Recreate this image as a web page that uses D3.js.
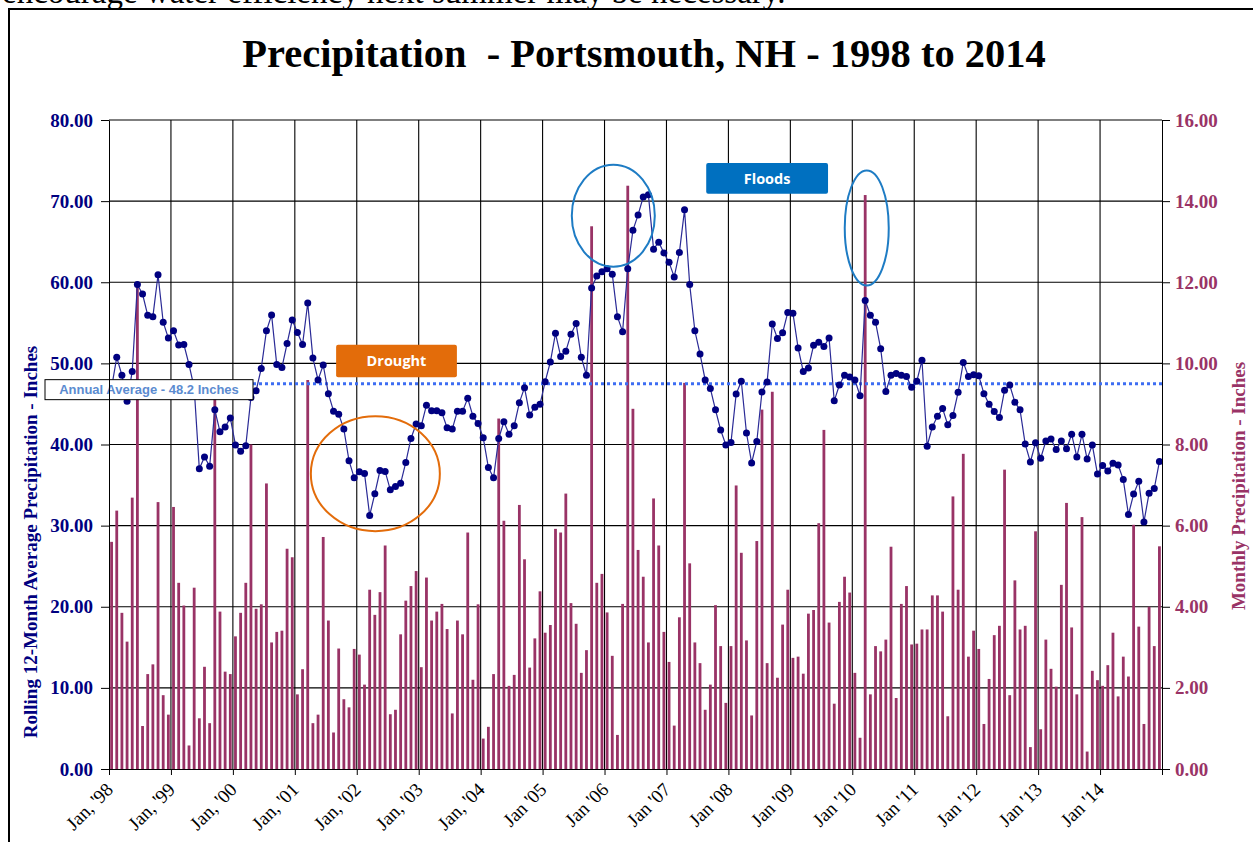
<!DOCTYPE html>
<html><head><meta charset="utf-8">
<script src="https://cdn.jsdelivr.net/npm/d3@7"></script>
<style>body{margin:0;background:#fff;overflow:hidden;} svg{display:block;}</style>
</head><body>
<svg id="chart" width="1253" height="842"></svg>
<script>
// ---------------- DATA ----------------
const yearLabels = ["Jan, '98","Jan, '99","Jan, '00","Jan, '01","Jan, '02","Jan, '03","Jan, '04",
  "Jan '05","Jan '06","Jan '07","Jan '08","Jan '09","Jan '10","Jan '11","Jan '12","Jan '13","Jan '14"];
const leftTicks = [0,10,20,30,40,50,60,70,80];
const rightTicks = [0,2,4,6,8,10,12,14,16];

// Monthly precipitation (inches), Jan 1998 .. Dec 2014
const monthlyPrecip = [
  5.60,6.37,3.85,3.14,6.69,11.90,1.06,2.34,2.58,6.58,1.82,1.34,
  6.46,4.59,4.03,0.58,4.47,1.25,2.52,1.13,9.25,3.88,2.40,2.34,
  3.27,3.85,4.59,8.00,3.95,4.06,7.04,3.12,3.38,3.41,5.43,5.22,
  1.84,2.46,9.59,1.13,1.34,5.72,3.66,0.90,2.97,1.72,1.52,2.96,
  2.82,2.08,4.42,3.80,4.36,5.51,1.35,1.46,3.32,4.15,4.51,4.88,
  2.51,4.72,3.66,3.88,4.07,3.45,1.37,3.66,3.32,5.83,2.20,4.06,
  0.75,1.04,2.34,8.64,6.12,2.05,2.32,6.51,5.17,2.50,3.22,4.38,
  3.36,3.55,5.92,5.83,6.79,4.09,3.58,2.37,2.93,13.38,4.59,4.81,
  3.86,2.79,0.84,4.07,14.38,8.88,5.40,4.74,3.12,6.67,5.51,3.38,
  2.64,1.07,3.74,9.52,5.07,3.12,2.61,1.46,2.08,4.04,3.03,1.63,
  3.03,6.99,5.33,3.17,1.32,5.62,8.86,2.61,9.30,2.25,3.56,4.42,
  2.74,2.77,2.35,3.83,3.92,6.06,8.36,3.61,1.61,4.12,4.74,4.35,
  2.37,0.77,14.15,1.84,3.03,2.90,3.19,5.48,1.75,4.07,4.51,3.07,
  3.09,3.44,3.44,4.28,4.28,3.88,1.30,6.72,4.42,7.77,2.77,3.41,
  2.96,1.11,2.22,3.30,3.53,7.38,1.82,4.65,3.44,3.53,0.54,5.86,
  0.98,3.19,2.47,2.03,4.54,6.56,3.49,1.84,6.21,0.43,2.42,2.19,
  2.05,2.56,3.36,1.79,2.77,2.28,6.02,3.51,1.11,4.00,3.03,5.49
];

// Rolling 12-month average precipitation (inches)
const rolling12 = [
  47.0,50.75,48.54,45.32,49.01,59.71,58.55,55.92,55.76,60.92,55.07,53.12,
  54.02,52.28,52.33,49.86,47.0,37.0,38.47,37.31,44.27,41.58,42.16,43.27,
  39.95,39.16,39.84,45.8,46.64,49.38,54.02,55.97,49.86,49.49,52.44,55.34,
  53.81,52.33,57.44,50.65,47.96,49.8,46.27,44.11,43.74,41.9,38.0,35.89,
  36.63,36.42,31.25,33.94,36.79,36.68,34.41,34.83,35.21,37.79,40.74,42.53,
  42.32,44.85,44.16,44.16,43.9,42.06,41.9,44.11,44.11,45.69,43.48,42.58,
  40.84,37.15,35.89,40.74,42.79,41.26,42.32,45.16,47.01,43.64,44.59,44.95,
  47.75,50.17,53.7,50.86,51.49,53.6,54.91,50.75,48.54,59.29,60.76,61.29,
  61.66,60.98,55.76,53.91,61.66,66.4,68.3,70.51,70.78,64.08,64.93,63.61,
  62.45,60.66,63.66,68.93,59.71,54.02,51.17,47.96,46.9,44.27,41.79,39.95,
  40.26,46.22,47.8,41.42,37.73,40.37,46.48,47.7,54.86,53.07,53.76,56.28,
  56.18,51.91,49.01,49.43,52.23,52.6,52.07,53.12,45.38,47.33,48.54,48.33,
  47.96,46.01,57.76,55.92,55.07,51.81,46.53,48.54,48.75,48.54,48.38,47.06,
  47.8,50.38,39.79,42.16,43.48,44.43,42.42,43.58,46.43,50.12,48.38,48.59,
  48.48,46.27,44.95,44.06,43.32,46.69,47.33,45.22,44.27,40.05,37.84,40.21,
  38.31,40.42,40.69,39.37,40.42,39.47,41.26,38.47,41.26,38.21,39.95,36.36,
  37.42,36.73,37.68,37.47,35.68,31.36,33.89,35.47,30.46,34.0,34.57,37.89
];

const avgLabel = "Annual Average - 48.2 Inches";
const avgLevel = 47.5;   // where the dotted reference line sits on the left axis

// ---------------- DRAW ----------------
const svg = d3.select("#chart");
const L = 109, R = 1162, T = 120, B = 769;
const nMonths = monthlyPrecip.length;
const x = d3.scaleLinear().domain([0, nMonths]).range([L, R]);
const yL = d3.scaleLinear().domain([0, 80]).range([B, T]);
const yR = d3.scaleLinear().domain([0, 16]).range([B, T]);

const serif = "'Liberation Serif','Times New Roman',serif";
const sans = "'Liberation Sans',Arial,sans-serif";
const navy = "#000080", maroon = "#993366";

// page text above the chart (cut off at the top edge, as in the source page)
svg.append("text").attr("x", 2).attr("y", 3)
  .attr("font-family", serif).attr("font-size", 33)
  .text("encourage water efficiency next summer may be necessary.");

// chart border
svg.append("path").attr("d", "M9,842 V9 H1253")
  .attr("fill", "none").attr("stroke", "#000").attr("stroke-width", 2);

// title
svg.append("text").attr("x", 644).attr("y", 67).attr("text-anchor", "middle")
  .attr("font-family", serif).attr("font-weight", "bold").attr("font-size", 40.5)
  .attr("xml:space", "preserve")
  .text("Precipitation  - Portsmouth, NH - 1998 to 2014");

// gridlines
const grid = svg.append("g");
grid.selectAll("line.h").data(leftTicks.filter(d => d > 0)).join("line")
  .attr("x1", L).attr("x2", R).attr("y1", d => yL(d)).attr("y2", d => yL(d))
  .attr("stroke", "#000").attr("stroke-width", 1.1);
const yearIdx = d3.range(0, nMonths + 1, 12);
grid.selectAll("line.v").data(yearIdx.filter(d => d > 0 && d < nMonths)).join("line")
  .attr("x1", d => x(d)).attr("x2", d => x(d)).attr("y1", T).attr("y2", B)
  .attr("stroke", "#000").attr("stroke-width", 1.1);

// bars
const bw = 2.8;
svg.append("g").selectAll("rect").data(monthlyPrecip).join("rect")
  .attr("x", (d, i) => x(i + 0.5) - bw / 2)
  .attr("width", bw)
  .attr("y", d => yR(d))
  .attr("height", d => B - yR(d))
  .attr("fill", maroon);

// average line
svg.append("line").attr("x1", x(0)).attr("x2", x(nMonths))
  .attr("y1", yL(avgLevel)).attr("y2", yL(avgLevel))
  .attr("stroke", "#3d6df2").attr("stroke-width", 3).attr("stroke-dasharray", "3,3");

// rolling line
svg.append("path").datum(rolling12)
  .attr("d", d3.line().x((d, i) => x(i + 0.5)).y(d => yL(d)))
  .attr("fill", "none").attr("stroke", "#2a2a96").attr("stroke-width", 1.2);
svg.append("g").selectAll("circle").data(rolling12).join("circle")
  .attr("cx", (d, i) => x(i + 0.5)).attr("cy", d => yL(d)).attr("r", 3.5)
  .attr("fill", navy);

// average label box
const boxY = yL(avgLevel) - 4;
svg.append("rect").attr("x", x(0) - 64).attr("y", boxY).attr("width", 208).attr("height", 20)
  .attr("fill", "#fff").attr("stroke", "#000").attr("stroke-width", 1);
svg.append("text").attr("x", x(0) - 64 + 104).attr("y", boxY + 10)
  .attr("text-anchor", "middle").attr("dominant-baseline", "central")
  .attr("font-family", sans).attr("font-weight", "bold").attr("font-size", 13)
  .attr("fill", "#5b8bd0").text(avgLabel);

// annotations (placed in data coordinates)
function ellipse(mx, v, rx, ry, color) {
  svg.append("ellipse").attr("cx", x(mx)).attr("cy", yL(v)).attr("rx", rx).attr("ry", ry)
    .attr("fill", "none").attr("stroke", color).attr("stroke-width", 2);
}
ellipse(51.6, 36.4, 64.5, 57.5, "#e36c0a");
ellipse(97.7, 68.2, 41.5, 51, "#1e7cc4");
ellipse(146.8, 66.7, 22, 57.5, "#1e7cc4");

function tag(m0, m1, vTop, vBot, color, label) {
  const x0 = x(m0), x1 = x(m1), y0 = yL(vTop), y1 = yL(vBot);
  svg.append("rect").attr("x", x0).attr("y", y0).attr("width", x1 - x0).attr("height", y1 - y0)
    .attr("rx", 2).attr("fill", color);
  svg.append("text").attr("x", (x0 + x1) / 2).attr("y", (y0 + y1) / 2)
    .attr("text-anchor", "middle").attr("dominant-baseline", "central")
    .attr("font-family", "'Open Sans',sans-serif").attr("font-weight", "bold").attr("font-size", 14.5)
    .attr("fill", "#fff").text(label);
}
tag(44.0, 67.4, 52.3, 48.3, "#e36c0a", "Drought");
tag(115.7, 139.3, 74.7, 70.9, "#0070c0", "Floods");

// axes
const fmt = d3.format(".2f");
const axL = svg.append("g").attr("transform", `translate(${L},0)`)
  .call(d3.axisLeft(yL).tickValues(leftTicks).tickFormat(fmt).tickSize(8).tickPadding(8).tickSizeOuter(0));
axL.selectAll("text").attr("font-family", serif).attr("font-weight", "bold")
  .attr("font-size", 19).attr("fill", navy);
const axR = svg.append("g").attr("transform", `translate(${R},0)`)
  .call(d3.axisRight(yR).tickValues(rightTicks).tickFormat(fmt).tickSize(8).tickPadding(5).tickSizeOuter(0));
axR.selectAll("text").attr("font-family", serif).attr("font-weight", "bold")
  .attr("font-size", 19).attr("fill", maroon);
const axB = svg.append("g").attr("transform", `translate(0,${B})`)
  .call(d3.axisBottom(x).tickValues(yearIdx).tickFormat((d, i) => yearLabels[i] || "")
    .tickSize(6).tickSizeOuter(0));
axB.selectAll("text").attr("font-family", serif).attr("font-size", 19).attr("fill", "#000")
  .attr("text-anchor", "end").attr("x", 0).attr("y", 0).attr("dy", "0.35em")
  .attr("transform", "translate(0,17) rotate(-45)");
[axL, axR, axB].forEach(a => a.selectAll("path,line").attr("stroke", "#000"));

// axis titles
svg.append("text").attr("transform", "translate(30,542) rotate(-90)")
  .attr("text-anchor", "middle").attr("dominant-baseline", "central")
  .attr("font-family", serif).attr("font-weight", "bold").attr("font-size", 19)
  .attr("fill", navy).text("Rolling 12-Month Average Precipitation - Inches");
svg.append("text").attr("transform", "translate(1238,486) rotate(-90)")
  .attr("text-anchor", "middle").attr("dominant-baseline", "central")
  .attr("font-family", serif).attr("font-weight", "bold").attr("font-size", 19)
  .attr("fill", maroon).text("Monthly Precipitation - Inches");
</script>
</body></html>
